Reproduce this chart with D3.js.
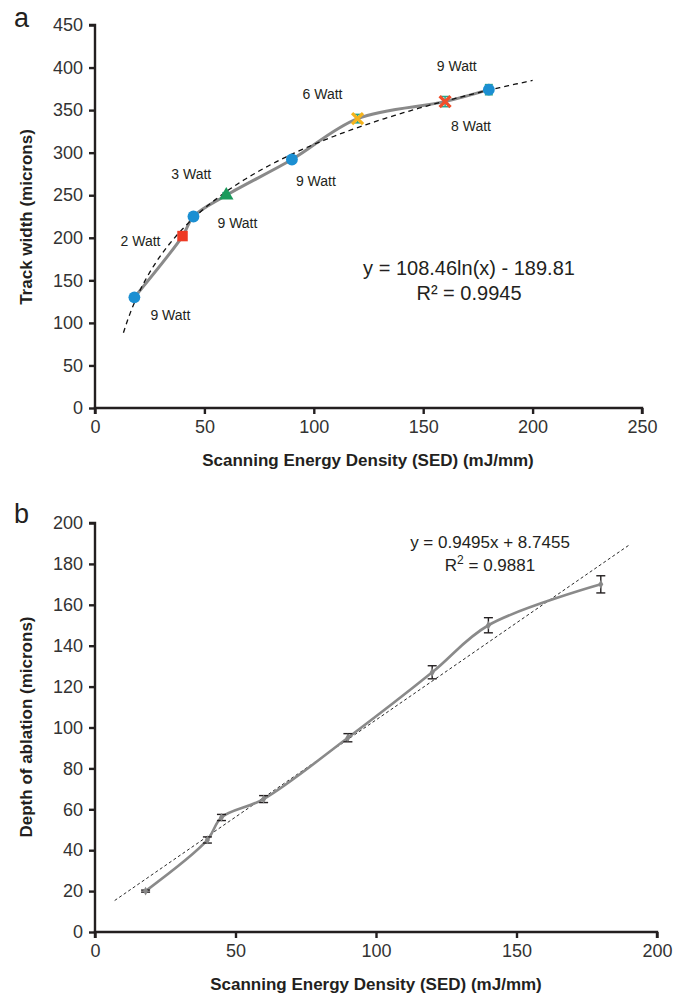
<!DOCTYPE html>
<html>
<head>
<meta charset="utf-8">
<script src="https://cdn.jsdelivr.net/npm/d3@7"></script>
<style>
  body { margin: 0; background: #fff; }
  text { font-family: "Liberation Sans", Arial, sans-serif; fill: #231f20; }
  .axis path, .axis line { stroke: #231f20; stroke-width: 2.4; }
  .axis text { font-size: 18px; fill: #333; }
  .title { font-size: 17px; font-weight: bold; }
</style>
</head>
<body>
<div id="chart"></div>
<script>
// ---- panel a: track width ----
const sedA = [18, 40, 45, 60, 90, 120, 160, 180];
const widthA = [130, 202, 225, 250, 292, 340, 360, 374];
const widthErrA = [3, 3, 3, 3, 3, 5, 6, 6];
const powerA = ['9 Watt', '2 Watt', '9 Watt', '3 Watt', '9 Watt', '6 Watt', '8 Watt', '9 Watt'];
const shapeA = ['circle', 'square', 'circle', 'triangle', 'circle', 'x', 'x', 'circle'];
const colorA = ['#1b8fd2', '#ee3a24', '#1b8fd2', '#1a9a5c', '#1b8fd2', '#f6b41c', '#f04e2a', '#1b8fd2'];
const yTicksA = [0, 50, 100, 150, 200, 250, 300, 350, 400, 450];
const xTicksA = [0, 50, 100, 150, 200, 250];
const fitA = { a: 108.46, b: -189.81, from: 13, to: 200 };

// ---- panel b: depth of ablation ----
const sedB = [18, 40, 45, 60, 90, 120, 140, 180];
const depthB = [20, 45, 56, 65, 95, 127, 150, 170];
const depthErrB = [0.5, 1.5, 1.5, 1.7, 2, 3.2, 3.7, 4.2];
const yTicksB = [0, 20, 40, 60, 80, 100, 120, 140, 160, 180, 200];
const xTicksB = [0, 50, 100, 150, 200];
const fitB = { m: 0.9495, c: 8.7455, from: 7, to: 190 };

// label offsets (px) for power annotations in panel a
const labelDx = [16, -62, 24, -55, 4, -55, 6, -52];
const labelDy = [23, 10, 11, -16, 27, -20, 29, -19];

const svg = d3.select('#chart').append('svg')
    .attr('width', 681).attr('height', 999);

function panel(top, bottom, xMax, yMax, xTicks, yTicks, left, right) {
    const x = d3.scaleLinear().domain([0, xMax]).range([left, right]);
    const y = d3.scaleLinear().domain([0, yMax]).range([bottom, top]);
    svg.append('g').attr('class', 'axis')
        .attr('transform', `translate(0,${bottom})`)
        .call(d3.axisBottom(x).tickValues(xTicks).tickSize(6).tickPadding(6))
        .call(g => g.select('.domain').attr('d', `M${left},6V0H${right}V6`));
    svg.append('g').attr('class', 'axis')
        .attr('transform', `translate(${left},0)`)
        .call(d3.axisLeft(y).tickValues(yTicks).tickSize(6).tickPadding(6))
        .call(g => g.select('.domain').attr('d', `M-6,${top}H0V${bottom}`));
    return { x, y };
}

// ===== panel a =====
const A = panel(25, 408, 250, 450, xTicksA, yTicksA, 95, 642);
const ptsA = sedA.map((d, i) => [A.x(d), A.y(widthA[i])]);

svg.append('path')
    .attr('d', d3.line().curve(d3.curveCatmullRom.alpha(0.5))(ptsA))
    .attr('fill', 'none').attr('stroke', '#8a8a8a').attr('stroke-width', 3);

const fitXA = d3.range(fitA.from, fitA.to + 0.5, 1);
svg.append('path')
    .attr('d', d3.line().x(d => A.x(d)).y(d => A.y(fitA.a * Math.log(d) + fitA.b))(fitXA))
    .attr('fill', 'none').attr('stroke', '#111').attr('stroke-width', 1.3)
    .attr('stroke-dasharray', '5,4');

// error bars a
sedA.forEach((d, i) => {
    const cx = A.x(d), y0 = A.y(widthA[i] - widthErrA[i]), y1 = A.y(widthA[i] + widthErrA[i]);
    const g = svg.append('g').attr('stroke', '#2aa58a').attr('stroke-width', 1.5);
    g.append('line').attr('x1', cx).attr('x2', cx).attr('y1', y0).attr('y2', y1);
    g.append('line').attr('x1', cx - 4).attr('x2', cx + 4).attr('y1', y0).attr('y2', y0);
    g.append('line').attr('x1', cx - 4).attr('x2', cx + 4).attr('y1', y1).attr('y2', y1);
});

// markers a
const symType = { circle: d3.symbolCircle, square: d3.symbolSquare, triangle: d3.symbolTriangle, x: d3.symbolX };
sedA.forEach((d, i) => {
    const s = shapeA[i];
    const p = svg.append('path')
        .attr('transform', `translate(${A.x(d)},${A.y(widthA[i])})`)
        .attr('d', d3.symbol().type(symType[s]).size(s === 'x' ? 80 : (s === 'triangle' ? 90 : 110))());
    if (s === 'x') p.attr('fill', 'none').attr('stroke', colorA[i]).attr('stroke-width', 3.2);
    else p.attr('fill', colorA[i]);
});

// power labels
sedA.forEach((d, i) => {
    svg.append('text')
        .attr('x', A.x(d) + labelDx[i]).attr('y', A.y(widthA[i]) + labelDy[i])
        .attr('font-size', 14).attr('fill', '#333')
        .text(powerA[i]);
});

svg.append('text').attr('x', 469).attr('y', 275).attr('text-anchor', 'middle')
    .attr('font-size', 20).text('y = 108.46ln(x) - 189.81');
svg.append('text').attr('x', 469).attr('y', 300).attr('text-anchor', 'middle')
    .attr('font-size', 20).text('R² = 0.9945');

svg.append('text').attr('x', 14).attr('y', 27).attr('font-size', 27).text('a');
svg.append('text').attr('class', 'title').attr('x', 368).attr('y', 466)
    .attr('text-anchor', 'middle').text('Scanning Energy Density (SED) (mJ/mm)');
svg.append('text').attr('class', 'title')
    .attr('transform', 'translate(32,217) rotate(-90)')
    .attr('text-anchor', 'middle').text('Track width (microns)');

// ===== panel b =====
const B = panel(523, 932, 200, 200, xTicksB, yTicksB, 95, 657);
const ptsB = sedB.map((d, i) => [B.x(d), B.y(depthB[i])]);

svg.append('path')
    .attr('d', d3.line().x(d => B.x(d)).y(d => B.y(fitB.m * d + fitB.c))([fitB.from, fitB.to]))
    .attr('fill', 'none').attr('stroke', '#111').attr('stroke-width', 0.9)
    .attr('stroke-dasharray', '3,2.5');

svg.append('path')
    .attr('d', d3.line().curve(d3.curveCatmullRom.alpha(0.5))(ptsB))
    .attr('fill', 'none').attr('stroke', '#8a8a8a').attr('stroke-width', 2.6);

sedB.forEach((d, i) => {
    const cx = B.x(d), y0 = B.y(depthB[i] - depthErrB[i]), y1 = B.y(depthB[i] + depthErrB[i]);
    const g = svg.append('g').attr('stroke', '#231f20').attr('stroke-width', 1.4);
    g.append('line').attr('x1', cx).attr('x2', cx).attr('y1', y0).attr('y2', y1);
    g.append('line').attr('x1', cx - 4.5).attr('x2', cx + 4.5).attr('y1', y0).attr('y2', y0);
    g.append('line').attr('x1', cx - 4.5).attr('x2', cx + 4.5).attr('y1', y1).attr('y2', y1);
    svg.append('path')
        .attr('transform', `translate(${cx},${B.y(depthB[i])})`)
        .attr('d', d3.symbol().type(d3.symbolDiamond).size(22)())
        .attr('fill', '#888');
});

const eqB = svg.append('g').attr('font-size', 17);
eqB.append('text').attr('x', 490).attr('y', 548).attr('text-anchor', 'middle')
    .text('y = 0.9495x + 8.7455');
const r2 = eqB.append('text').attr('x', 490).attr('y', 571).attr('text-anchor', 'middle');
r2.append('tspan').text('R');
r2.append('tspan').attr('font-size', 12).attr('dy', -7).text('2');
r2.append('tspan').attr('dy', 7).text(' = 0.9881');

svg.append('text').attr('x', 14).attr('y', 523).attr('font-size', 27).text('b');
svg.append('text').attr('class', 'title').attr('x', 376).attr('y', 990)
    .attr('text-anchor', 'middle').text('Scanning Energy Density (SED) (mJ/mm)');
svg.append('text').attr('class', 'title')
    .attr('transform', 'translate(32,727) rotate(-90)')
    .attr('text-anchor', 'middle').text('Depth of ablation (microns)');
</script>
</body>
</html>
